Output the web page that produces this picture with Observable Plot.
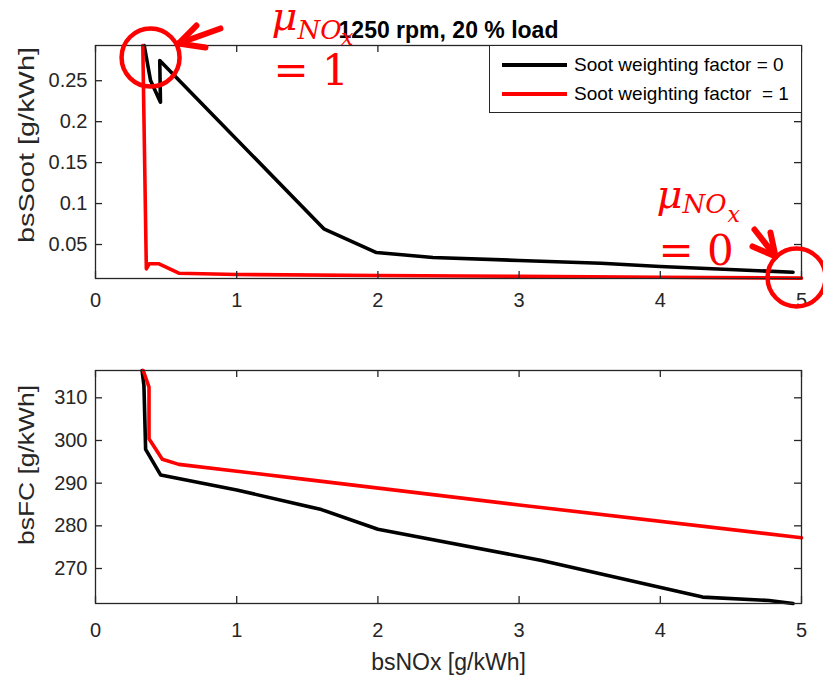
<!DOCTYPE html>
<html><head><meta charset="utf-8">
<script src="https://cdn.jsdelivr.net/npm/d3@7"></script>
<script src="https://cdn.jsdelivr.net/npm/@observablehq/plot@0.6"></script>
<style>
body{margin:0;background:#fff;}
#fig{position:relative;width:823px;height:675px;font-family:"Liberation Sans",Arial,sans-serif;overflow:hidden}
#fig svg{display:block;overflow:visible}
.legend{position:absolute;left:489px;top:45px;width:313px;height:68px;border:1px solid #262626;background:#fff;box-sizing:border-box}
.row{position:absolute;left:0;height:30px;width:100%}
.sw{position:absolute;left:12px;width:65px;height:4px;top:13px}
.lt{position:absolute;left:84px;top:2px;font-size:19px;line-height:26px;color:#000;white-space:pre}
</style></head>
<body><div id="fig"></div>
<script>
// ---------- data ----------
const title = "1250 rpm, 20 % load";
const seriesNames = ["Soot weighting factor = 0", "Soot weighting factor  = 1"];
const seriesColors = ["#000000", "#ff0000"];
const xLabel = "bsNOx [g/kWh]";
const sootLabel = "bsSoot [g/kWh]";
const fcLabel = "bsFC [g/kWh]";
const xTicks = [0, 1, 2, 3, 4, 5];
const sootTicks = [0.05, 0.1, 0.15, 0.2, 0.25];
const fcTicks = [270, 280, 290, 300, 310];

// soot weighting factor = 0
const w0NoxSoot = [0.345, 0.39, 0.46, 0.455, 1.617, 1.99, 2.39, 3.0, 3.58, 4.0, 4.94];
const w0Soot    = [0.293, 0.2503, 0.2238, 0.2747, 0.0692, 0.0402, 0.0341, 0.0305, 0.0272, 0.0232, 0.0162];
const w0NoxFC   = [0.33, 0.343, 0.355, 0.462, 1.0, 1.6, 2.0, 3.16, 4.3, 4.77, 4.94];
const w0FC      = [316.4, 312.9, 297.9, 291.9, 288.4, 283.8, 279.2, 271.9, 263.3, 262.5, 261.8];
// soot weighting factor = 1
const w1NoxSoot = [0.335, 0.36, 0.38, 0.45, 0.59, 1.0, 2.0, 3.0, 4.0, 5.0];
const w1Soot    = [0.293, 0.0203, 0.0265, 0.0265, 0.015, 0.0134, 0.0122, 0.0112, 0.0101, 0.0089];
const w1NoxFC   = [0.338, 0.379, 0.379, 0.473, 0.59, 1.456, 3.0, 5.0];
const w1FC      = [316.4, 312.5, 300.4, 295.6, 294.4, 291.0, 284.9, 277.2];

// annotations (data coordinates of the top panel)
const muLabels = ["μ", "μ"];          const muX = [1.246, 3.973];  const muY = [0.3115, 0.0940];
const noLabels = ["NO", "NO"];        const noX = [1.431, 4.157];  const noY = [0.3010, 0.0879];
const xsLabels = ["x", "x"];          const xsX = [1.738, 4.476];  const xsY = [0.2942, 0.0769];
const eqLabels = ["= 1", "= 0"];      const eqX = [1.261, 3.987];  const eqY = [0.2442, 0.0244];
const ringX = [0.390, 4.965];         const ringY = [0.2783, 0.0097];
// arrows: shaft + two wings, each from tip
const arrowTipX  = [0.588, 0.588, 0.588, 4.816, 4.816, 4.816];
const arrowTipY  = [0.2954, 0.2954, 0.2954, 0.0354, 0.0354, 0.0354];
const arrowEndX  = [0.885, 0.715, 0.779, 4.667, 4.780, 4.653];
const arrowEndY  = [0.3138, 0.3174, 0.2906, 0.0683, 0.0647, 0.0476];

// ---------- helpers ----------
const zip = (xs, ys, extra = {}) => xs.map((x, i) => ({x, y: ys[i], ...extra}));
const axisColor = "#262626";
const tickFont = 20;
const W = 823, ML = 95, MR = 22;

function panel({height, marginTop, marginBottom, yDomain, yTicks, series, yLabel, yLabelDy, xPad, xAxisLabel, extra = []}) {
  const fh = height - marginTop - marginBottom, fw = W - ML - MR;
  return Plot.plot({
    width: W, height, marginLeft: ML, marginRight: MR, marginTop, marginBottom,
    style: {fontFamily: '"Liberation Sans", Arial, sans-serif', overflow: "visible", background: "transparent"},
    x: {domain: [0, 5]},
    y: {domain: yDomain},
    marks: [
      ...series.map((s, i) => Plot.line(s, {x: "x", y: "y", stroke: seriesColors[i], strokeWidth: 3.6, strokeLinejoin: "round"})),
      Plot.frame({stroke: axisColor, strokeWidth: 1.3}),
      Plot.tickX(xTicks, {x: d => d, insetTop: fh - 7, stroke: axisColor, strokeWidth: 1.3}),
      Plot.tickX(xTicks, {x: d => d, insetBottom: fh - 7, stroke: axisColor, strokeWidth: 1.3}),
      Plot.tickY(yTicks, {y: d => d, insetRight: fw - 7, stroke: axisColor, strokeWidth: 1.3}),
      Plot.tickY(yTicks, {y: d => d, insetLeft: fw - 7, stroke: axisColor, strokeWidth: 1.3}),
      Plot.axisX(xTicks, {anchor: "bottom", tickSize: 0, tickPadding: xPad, fontSize: tickFont, label: null, color: axisColor, tickFormat: d => String(d)}),
      Plot.axisY(yTicks, {anchor: "left", tickSize: 0, tickPadding: 8, fontSize: tickFont, label: null, color: axisColor, tickFormat: d => String(d)}),
      Plot.text([yLabel], {frameAnchor: "left", text: d => d, rotate: -90, dx: -69, dy: yLabelDy, fontSize: 22, fill: axisColor, textAnchor: "middle", lineAnchor: "middle"}),
      ...(xAxisLabel ? [Plot.text([xAxisLabel], {frameAnchor: "bottom", text: d => d, dy: 59, fontSize: 23, fill: axisColor, textAnchor: "middle", lineAnchor: "middle"})] : []),
      ...extra
    ]
  });
}

const red = "#ff0000";
const serif = '"DejaVu Serif", "Liberation Serif", serif';
const annoText = (labels, xs, ys, size, style) =>
  Plot.text(labels.map((t, i) => ({t, x: xs[i], y: ys[i]})), {x: "x", y: "y", text: "t", fontSize: size, fontStyle: style, fontFamily: serif, fill: red, textAnchor: "start", lineAnchor: "bottom"});

const topChart = panel({
  height: 330, marginTop: 45, marginBottom: 52,
  yDomain: [0.0085, 0.293], yTicks: sootTicks,
  series: [zip(w0NoxSoot, w0Soot), zip(w1NoxSoot, w1Soot)],
  yLabel: sootLabel, yLabelDy: -17, xPad: 14,
  extra: [
    Plot.text([title], {frameAnchor: "top", text: d => d, dy: -8, fontSize: 23, fontWeight: "bold", fill: "#000", textAnchor: "middle", lineAnchor: "bottom"}),
    annoText(muLabels, muX, muY, 40, "italic"),
    annoText(noLabels, noX, noY, 26, "italic"),
    annoText(xsLabels, xsX, xsY, 22, "italic"),
    annoText(eqLabels, eqX, eqY, 42, "normal"),
    Plot.dot(zip(ringX, ringY), {x: "x", y: "y", r: 29, stroke: red, strokeWidth: 4.5, fill: "none"}),
    Plot.link(arrowTipX.map((x, i) => ({x1: x, y1: arrowTipY[i], x2: arrowEndX[i], y2: arrowEndY[i]})),
      {x1: "x1", y1: "y1", x2: "x2", y2: "y2", stroke: red, strokeWidth: 6, strokeLinecap: "round"})
  ]
});

const bottomChart = panel({
  height: 345, marginTop: 40, marginBottom: 72,
  yDomain: [261.8, 316.4], yTicks: fcTicks,
  series: [zip(w0NoxFC, w0FC), zip(w1NoxFC, w1FC)],
  yLabel: fcLabel, yLabelDy: -22, xPad: 19, xAxisLabel: xLabel
});

const fig = document.getElementById("fig");
fig.appendChild(topChart);
fig.appendChild(bottomChart);

// stretch the rotated axis titles along their length, as in the original export
const stretch = {[sootLabel]: 196, [fcLabel]: 160};
d3.select(fig).selectAll("text").each(function () {
  const t = this.textContent;
  if (stretch[t]) d3.select(this).attr("textLength", stretch[t]).attr("lengthAdjust", "spacingAndGlyphs");
});

// legend
const legend = document.createElement("div");
legend.className = "legend";
seriesNames.forEach((name, i) => {
  const row = document.createElement("div");
  row.className = "row";
  row.style.top = (4 + i * 29) + "px";
  const sw = document.createElement("div");
  sw.className = "sw"; sw.style.background = seriesColors[i];
  const lt = document.createElement("div");
  lt.className = "lt"; lt.textContent = name;
  row.appendChild(sw); row.appendChild(lt);
  legend.appendChild(row);
});
fig.appendChild(legend);
</script></body></html>
